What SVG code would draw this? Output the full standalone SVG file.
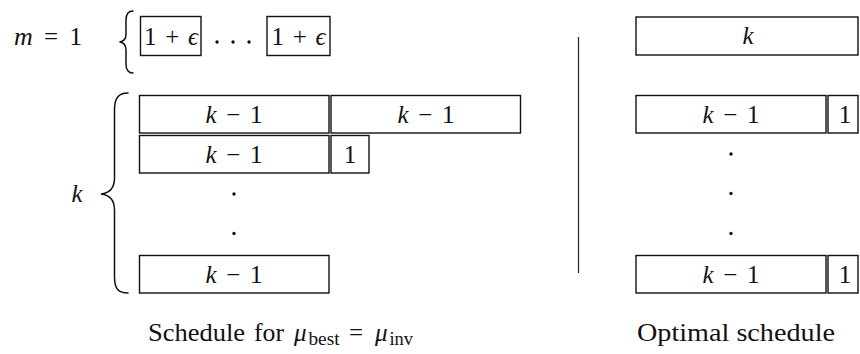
<svg xmlns="http://www.w3.org/2000/svg" width="860" height="354" viewBox="0 0 860 354">
<style>
.box{fill:#fff;stroke:#111;stroke-width:1.4}
.t{font-family:'Liberation Serif','Times New Roman','DejaVu Serif',serif;font-size:25px;fill:#111}
.c{text-anchor:middle}
.i{font-style:italic}
.w{word-spacing:3.5px}
.br{fill:none;stroke:#111;stroke-width:1.5;stroke-linecap:round}
.dot{fill:#111}
.sep{stroke:#222;stroke-width:1.2}
</style>
<rect width="860" height="354" fill="#fff"/>
<g id="labels">
<text class="t" x="14" y="45"><tspan class="i" font-size="26">m</tspan><tspan x="44">=</tspan><tspan x="69.5">1</tspan></text>
<text class="t i" x="77" y="202" text-anchor="middle">k</text>
</g>
<g id="braces">
<path class="br" d="M133,11 C128.5,11 126,14 126,20 L126,34 C126,39 124,41.5 119.5,42 C124,42.5 126,45 126,50 L126,64 C126,70 128.5,73 133,73"/>
<path class="br" d="M128,93 C118.5,93 114.5,98 114.5,110 L114.5,178 C114.5,188 110,193 101,194 C110,195 114.5,200 114.5,210 L114.5,277 C114.5,289 118.5,293 128,293"/>
</g>
<g id="top-left">
<g id="eps1"><rect class="box" x="140.5" y="16.5" width="60.5" height="39"/><text class="t c" x="171" y="45" style="word-spacing:2.5px">1 + <tspan class="i">ϵ</tspan></text></g>
<g id="cdots"><circle class="dot" cx="217" cy="42" r="1.7"/><circle class="dot" cx="233" cy="42" r="1.7"/><circle class="dot" cx="249" cy="42" r="1.7"/></g>
<g id="eps2"><rect class="box" x="267" y="16.5" width="63" height="39"/><text class="t c" x="298.5" y="45" style="word-spacing:2.5px">1 + <tspan class="i">ϵ</tspan></text></g>
</g>
<g id="left-rows">
<g id="L1a"><rect class="box" x="139.5" y="95.5" width="189.5" height="37.5"/><text class="t c w" x="234" y="122.5"><tspan class="i">k</tspan> − 1</text></g>
<g id="L1b"><rect class="box" x="331" y="95.5" width="189.5" height="37.5"/><text class="t c w" x="426" y="122.5"><tspan class="i">k</tspan> − 1</text></g>
<g id="L2a"><rect class="box" x="139.5" y="135.5" width="189.5" height="37.5"/><text class="t c w" x="234" y="162.5"><tspan class="i">k</tspan> − 1</text></g>
<g id="L2b"><rect class="box" x="331" y="135.5" width="38" height="37.5"/><text class="t c" x="350" y="162.5">1</text></g>
<g id="Ldots"><circle class="dot" cx="234" cy="194" r="1.7"/><circle class="dot" cx="234" cy="233.5" r="1.7"/></g>
<g id="L5a"><rect class="box" x="139.5" y="255.5" width="189.5" height="37.5"/><text class="t c w" x="234" y="282.5"><tspan class="i">k</tspan> − 1</text></g>
</g>
<g id="separator"><line class="sep" x1="578.5" y1="37" x2="578.5" y2="273"/></g>
<g id="right-rows">
<g id="Rk"><rect class="box" x="636" y="17" width="222" height="38"/><text class="t c i" x="748" y="44">k</text></g>
<g id="R1a"><rect class="box" x="636" y="95.5" width="190" height="37.5"/><text class="t c w" x="731" y="122.5"><tspan class="i">k</tspan> − 1</text></g>
<g id="R1b"><rect class="box" x="828" y="95.5" width="30" height="37.5"/><text class="t c" x="845" y="122.5">1</text></g>
<g id="Rdots"><circle class="dot" cx="731" cy="154" r="1.7"/><circle class="dot" cx="731" cy="193.5" r="1.7"/><circle class="dot" cx="731" cy="233.5" r="1.7"/></g>
<g id="R5a"><rect class="box" x="636" y="255.5" width="190" height="37.5"/><text class="t c w" x="731" y="282.5"><tspan class="i">k</tspan> − 1</text></g>
<g id="R5b"><rect class="box" x="828" y="255.5" width="30" height="37.5"/><text class="t c" x="845" y="282.5">1</text></g>
</g>
<g id="captions">
<text class="t" x="148" y="341" font-size="26"><tspan textLength="97" lengthAdjust="spacingAndGlyphs">Schedule</tspan><tspan x="254" textLength="30" lengthAdjust="spacingAndGlyphs">for</tspan><tspan class="i" x="294">μ</tspan><tspan x="308.5" dy="4" font-size="18" textLength="31" lengthAdjust="spacingAndGlyphs">best</tspan><tspan x="349" dy="-4">=</tspan><tspan class="i" x="375">μ</tspan><tspan x="389.5" dy="4" font-size="18" textLength="23.5" lengthAdjust="spacingAndGlyphs">inv</tspan></text>
<text class="t" x="637" y="341" font-size="26" textLength="198" lengthAdjust="spacingAndGlyphs">Optimal schedule</text>
</g>
</svg>
